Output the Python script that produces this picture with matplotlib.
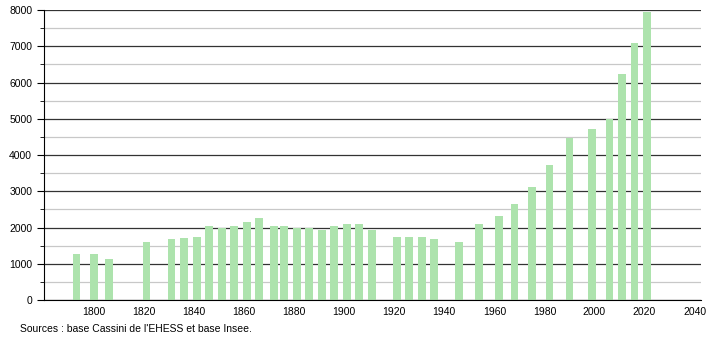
import matplotlib.pyplot as plt
from matplotlib.ticker import MultipleLocator

plt.rcParams['font.family'] = ['Liberation Sans', 'DejaVu Sans']

# années de recensement et population
annees = [1793, 1800, 1806, 1821, 1831, 1836, 1841, 1846, 1851, 1856,
          1861, 1866, 1872, 1876, 1881, 1886, 1891, 1896, 1901, 1906,
          1911, 1921, 1926, 1931, 1936, 1946, 1954, 1962, 1968, 1975,
          1982, 1990, 1999, 2006, 2011, 2016, 2021]
population = [1280, 1280, 1140, 1610, 1670, 1720, 1750, 2030, 1980, 2030,
              2140, 2270, 2030, 2055, 1975, 1990, 1945, 2055, 2085, 2085,
              1945, 1740, 1750, 1750, 1685, 1610, 2085, 2315, 2640, 3130,
              3720, 4460, 4730, 4995, 6235, 7090, 7955]
x_ticks = list(range(1800, 2041, 20))
source = "Sources : base Cassini de l'EHESS et base Insee."

fig = plt.figure(figsize=(7.1, 3.4), dpi=100)
ax = fig.add_axes([0.062, 0.1176, 0.925, 0.853])

ax.bar(annees, population, width=3.1, color='#ade3ad', zorder=2)

ax.set_xlim(1780, 2042.5)
ax.set_ylim(0, 8000)
ax.set_xticks(x_ticks)
ax.yaxis.set_major_locator(MultipleLocator(1000))
ax.yaxis.set_minor_locator(MultipleLocator(500))

ax.set_axisbelow(True)
ax.grid(True, axis='y', which='major', color='#333333', linewidth=0.9)
ax.grid(True, axis='y', which='minor', color='#c8c8c8', linewidth=0.9)

for s in ['top', 'right']:
    ax.spines[s].set_visible(False)
ax.spines['left'].set_color('black')
ax.spines['bottom'].set_color('black')

ax.tick_params(axis='x', length=0, labelsize=7.5, pad=5)
ax.tick_params(axis='y', which='major', length=5, labelsize=7.5)
ax.tick_params(axis='y', which='minor', length=3)

fig.text(0.028, 0.033, source, fontsize=7.5, ha='left', va='center')

fig.savefig("out.png", dpi=100)
